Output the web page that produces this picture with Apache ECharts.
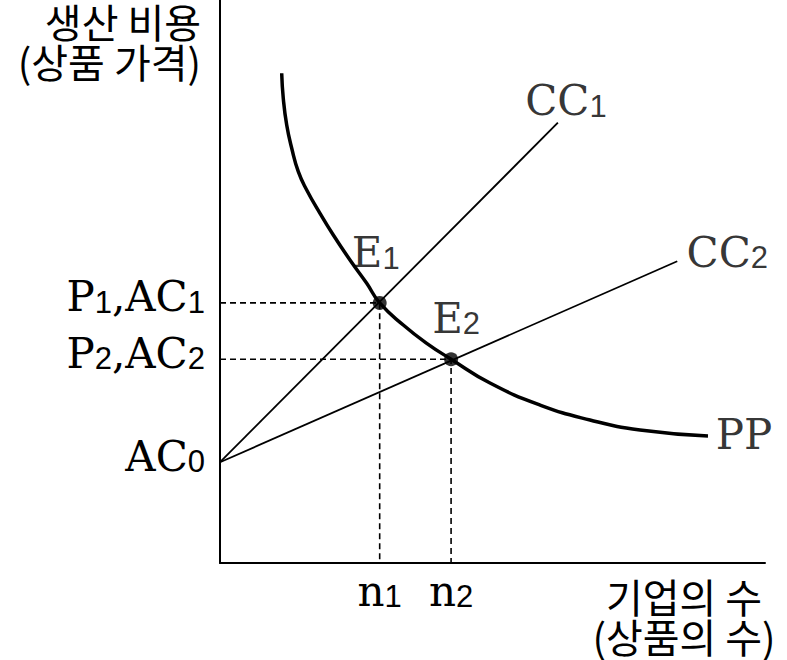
<!DOCTYPE html>
<html><head><meta charset="utf-8">
<script src="https://cdn.jsdelivr.net/npm/echarts@6/dist/echarts.min.js"></script>
<style>html,body{margin:0;padding:0;background:#fff}#c{width:787px;height:660px}</style>
</head><body><div id="c"></div>
<script>
// ---- data (abstract 0-100 units) ----
const ppCurve = [[11.32,86.98],[11.61,82.54],[12.24,77.80],[13.16,73.66],[14.37,69.50],[15.91,66.25],[18.35,62.11],[20.79,58.26],[23.85,53.82],[26.92,49.68],[29.3,46.2],[33.63,42.27],[37.93,39.02],[42.4,36.2],[49.54,31.97],[58.72,28.06],[67.89,25.40],[77.06,23.62],[89.54,22.56]];
const cc1Line = [[0,17.9],[62.0,78.2]];
const cc2Line = [[0,17.9],[83.9,53.6]];
const curveNames = ['CC1','CC2','PP'];
const eqNames = ['E1','E2'];
const eqX = [29.3, 42.4];
const eqY = [46.2, 36.2];
const yTickValues = [17.9, 36.2, 46.2];
const yTickLabels = ['AC0','P2,AC2','P1,AC1'];
const xTickValues = [29.3, 42.4];
const xTickLabels = ['n1','n2'];
const yAxisTitle = ['생산 비용','(상품 가격)'];
const xAxisTitle = ['기업의 수','(상품의 수)'];

// ---- styling ----
const SERIF = '"DejaVu Serif","Liberation Serif",serif';
const SANS = '"Liberation Sans",Arial,sans-serif';
const KR = '"Noto Sans CJK KR","Noto Sans",sans-serif';
const rich = {
  m: {fontFamily: SERIF, fontSize: 42, color:'#000', verticalAlign:'bottom'},
  s: {fontFamily: SANS, fontSize: 31, color:'#000', verticalAlign:'bottom'}
};
function sub(t){ return t.replace(/(\d+)|([^\d]+)/g, (m, d, o) => d ? '{s|'+d+'}' : '{m|'+o+'}'); }
function lookup(vals, labels, v){
  for (let i=0;i<vals.length;i++) if (Math.abs(vals[i]-v) < 1e-6) return sub(labels[i]);
  return '';
}
const endOffsets = [[8,-22],[50,-9],[36,-1]];
const eqOffsets = [[-4,-50],[5,-41]];

const lineEnds = [cc1Line[cc1Line.length-1], cc2Line[cc2Line.length-1], ppCurve[ppCurve.length-1]];

const guideSeries = eqX.map((x,i)=>({
  type:'line', data:[[0,eqY[i]],[x,eqY[i]],[x,0]], symbol:'none', silent:true,
  lineStyle:{color:'#000', width:1.6, type:[6,4]}, z:1
}));

const titleFont = '40px ' + KR;
const chart = echarts.init(document.getElementById('c'), null, {renderer:'svg'});
chart.setOption({
  animation:false,
  backgroundColor:'#fff',
  grid:{left:220, right:22, top:0, bottom:97, containLabel:false},
  xAxis:{
    type:'value', min:0, max:100,
    axisLine:{show:true, onZero:false, lineStyle:{color:'#000', width:2}},
    axisTick:{show:false}, splitLine:{show:false},
    axisLabel:{customValues:xTickValues, margin:7, rich:rich,
      formatter:v=>lookup(xTickValues,xTickLabels,v)}
  },
  yAxis:{
    type:'value', min:0, max:100,
    axisLine:{show:true, onZero:false, lineStyle:{color:'#000', width:2}},
    axisTick:{show:false}, splitLine:{show:false},
    axisLabel:{customValues:yTickValues, margin:15, padding:[0,0,12,0], rich:rich,
      formatter:v=>lookup(yTickValues,yTickLabels,v)}
  },
  graphic:[
    {type:'text', x:201, y:21, style:{text:yAxisTitle[0], font:titleFont, fill:'#000', align:'right', verticalAlign:'middle'}},
    {type:'text', x:201, y:61, style:{text:yAxisTitle[1], font:titleFont, fill:'#000', align:'right', verticalAlign:'middle'}},
    {type:'text', x:684, y:596, style:{text:xAxisTitle[0], font:titleFont, fill:'#000', align:'center', verticalAlign:'middle'}},
    {type:'text', x:684, y:636, style:{text:xAxisTitle[1], font:titleFont, fill:'#000', align:'center', verticalAlign:'middle'}}
  ],
  series:[
    ...guideSeries,
    {type:'line', name:curveNames[0], data:cc1Line, symbol:'none', lineStyle:{color:'#000', width:1.8}, z:2},
    {type:'line', name:curveNames[1], data:cc2Line, symbol:'none', lineStyle:{color:'#000', width:1.8}, z:2},
    {type:'line', name:curveNames[2], data:ppCurve, symbol:'none', smooth:0.5, lineStyle:{color:'#000', width:3.5}, z:3},
    {type:'scatter', data:eqX.map((x,i)=>({value:[x,eqY[i]], label:{offset:eqOffsets[i], formatter:sub(eqNames[i])}})),
      symbol:'circle', symbolSize:14, itemStyle:{color:'#000'}, z:5,
      label:{show:true, position:'inside', color:'#000', rich:rich}},
    {type:'scatter', data:lineEnds.map((p,i)=>({value:p, label:{offset:endOffsets[i], formatter:sub(curveNames[i])}})),
      symbol:'circle', symbolSize:1, itemStyle:{color:'rgba(0,0,0,0)'}, z:5, silent:true,
      label:{show:true, position:'inside', color:'#000', rich:rich}}
  ]
});
</script>
</body></html>
